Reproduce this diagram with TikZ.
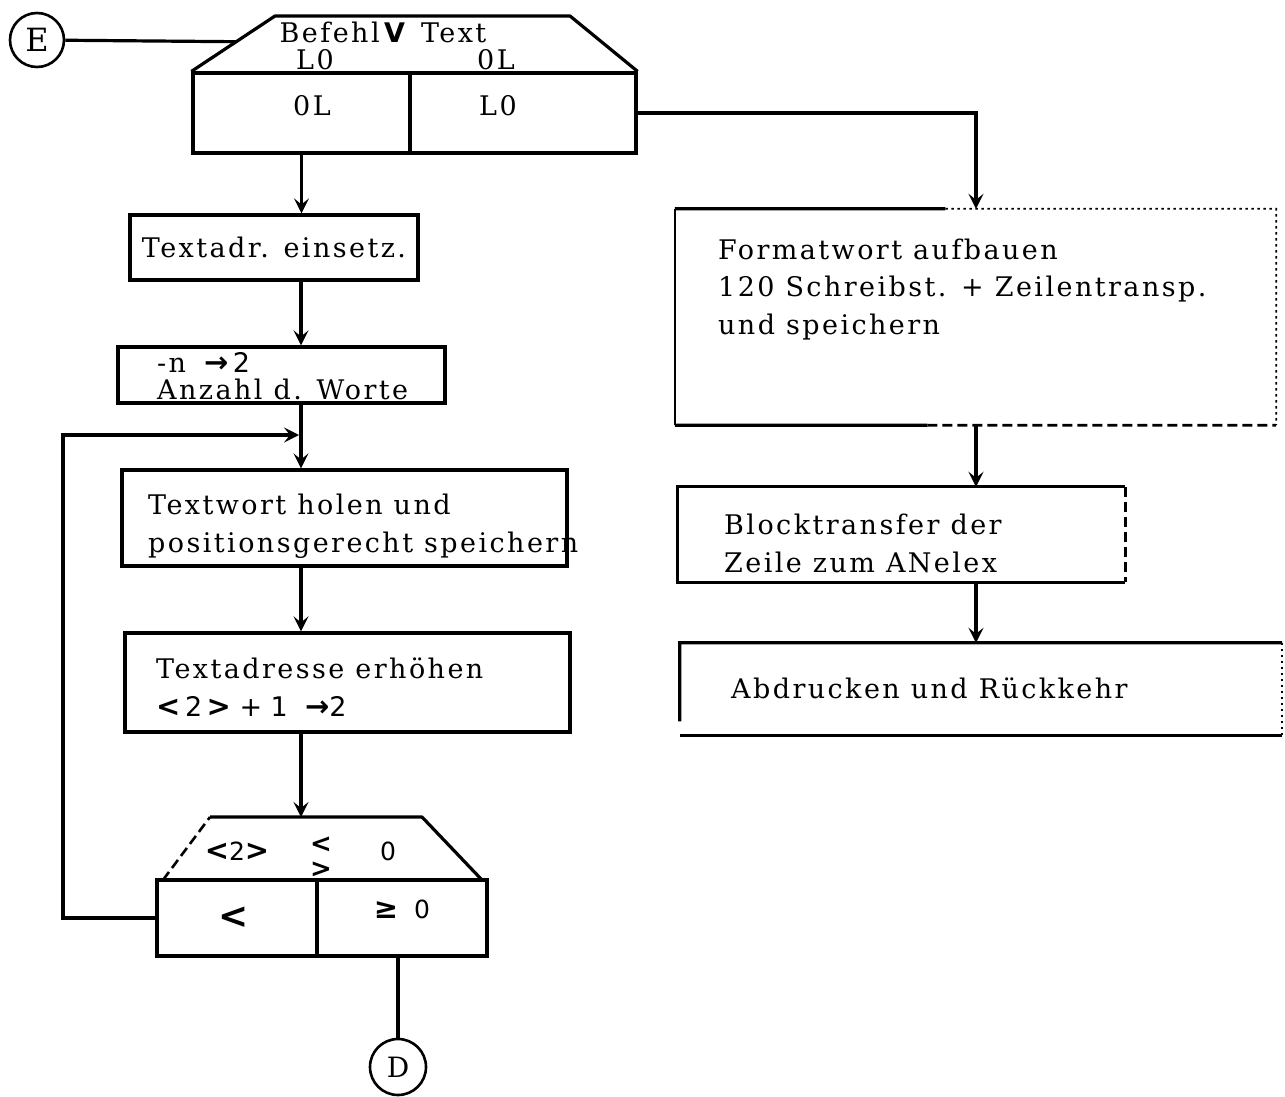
\documentclass[tikz,border=0pt]{standalone}
\usepackage{fontspec}
\setmainfont{DejaVu Serif}[LetterSpace=9]
\newfontfamily\symfont{DejaVu Sans}
\usetikzlibrary{arrows.meta,calc}
\newcommand\mychev[1]{{\symfont\bfseries\fontsize{29}{29}\selectfont #1}}
\begin{document}
\begin{tikzpicture}[x=1pt,y=-1pt,
 ln/.style={line width=3.2pt},
 thinln/.style={line width=2.4pt},
 dotl/.style={line width=1.8pt, dash pattern=on 2.5pt off 3.5pt},
 dashl/.style={line width=2.6pt, dash pattern=on 10pt off 5pt},
 bx/.style={draw, line width=3.2pt, inner sep=0pt},
 nb/.style={inner sep=0pt},
 arr/.style={line width=3.2pt, -{Stealth[length=15pt,width=15pt,inset=6pt]}},
 t/.style={inner sep=0pt, font=\fontsize{27}{37.5}\selectfont, align=left},
 ts/.style={inner sep=0pt, font=\symfont\fontsize{25}{25}\selectfont},
 circ/.style={draw, circle, line width=2.6pt, inner sep=0pt},
]
\useasboundingbox (0,0) rectangle (1285,1097);

% ---- start
\node[circ, minimum size=54] (E) at (37,40) {\fontsize{32}{32}\selectfont E};

% ---- decision 1
\node[bx, minimum width=217, minimum height=80] (d1l) at (301.5,113) {};
\node[bx, minimum width=226, minimum height=80] (d1r) at (523,113) {};
\coordinate (d1tl) at (275,16);
\coordinate (d1tr) at (570,16);
\draw[ln, line join=round] (d1l.north west) -- (d1tl) -- (d1tr) -- (d1r.north east);
\coordinate (d1in) at ($(d1l.north west)!0.536!(d1tl)$);
\node[t] (d1q) at (383,32) {Befehl\,{\symfont\bfseries V}\hspace{16pt}Text};
\node[t] (d1a) at (315,60) {L0};
\node[t] (d1b) at (496,60) {0L};
\node[t] (d1c) at (312,106) {0L};
\node[t] (d1d) at (498,106) {L0};
\draw[ln] (E) -- (d1in);

% ---- left column
\coordinate (colL) at (301,0);
\node[bx, minimum width=288, minimum height=65, font=\fontsize{27}{27}\selectfont] (tadr) at (274,247.5) {Textadr. einsetz.};
\draw[arr] (d1l.south) -- (d1l.south |- tadr.north);

\node[bx, minimum width=327, minimum height=56] (anz) at (281.5,375) {};
\node[t, anchor=west] (anzA) at (157,362) {-n\hspace{18pt}\mychev{→}\,{\symfont 2}};
\node[t, anchor=west] (anzB) at (157,389) {Anzahl d. Worte};
\draw[arr] (tadr.south -| colL) -- (anz.north -| colL);

\node[bx, minimum width=445, minimum height=96] (tw) at (344.5,518) {};
\node[t, anchor=west] (twT) at (148,526) {Textwort holen und\\positionsgerecht speichern};
\draw[arr] (anz.south -| colL) -- (tw.north -| colL);

\node[bx, minimum width=445, minimum height=99] (ta) at (347.5,682.5) {};
\node[t, anchor=west] (taT) at (156,687) {Textadresse erhöhen\\{\symfont\mychev{<}\,2\,\mychev{>}\ +\ 1\ \ \mychev{→}2}};
\draw[arr] (tw.south -| colL) -- (ta.north -| colL);

% ---- decision 2
\node[bx, minimum width=160, minimum height=76] (d2l) at (237,918) {};
\node[bx, minimum width=170, minimum height=76] (d2r) at (402,918) {};
\coordinate (d2bl) at (163,880);
\coordinate (d2tl) at (210,817);
\coordinate (d2tr) at (422,817);
\coordinate (d2br) at (482,880);
\draw[dashl] (d2bl) -- (d2tl);
\draw[ln, line join=round] (d2tl) -- (d2tr) -- (d2br);
\node[ts] (d2q1) at (237,851) {\mychev{<}2\mychev{>}};
\node[inner sep=0pt, align=center, font=\symfont\bfseries\fontsize{26}{25}\selectfont] (d2q2) at (321,857) {<\\>};
\node[ts] (d2q3) at (388,851) {0};
\node[ts, font=\symfont\bfseries\fontsize{36}{36}\selectfont] (d2lt) at (234,918) {<};
\node[ts] (d2ge) at (402,909) {\mychev{≥}\ \ 0};
\coordinate (d2in) at (colL |- d2tl);
\draw[arr] (ta.south -| colL) -- (d2in);

% loop back
\coordinate (lx) at (63,435);
\coordinate (lj) at (299,435);
\draw[arr] (d2l.west) -| (lx) -- (lj);

% exit D
\node[circ, minimum size=56] (D) at (398,1067) {\fontsize{28}{28}\selectfont D};
\draw[ln] (D |- d2r.south) -- (D.north);

% ---- right column
\node[nb, minimum width=601, minimum height=216] (fw) at (975.5,317) {};
\draw[thinln] (fw.south west) -- (fw.north west);
\draw[ln] (fw.north west) -- ($(fw.north west)!0.45!(fw.north east)$);
\draw[dotl] ($(fw.north west)!0.45!(fw.north east)$) -- (fw.north east) -- (fw.south east);
\draw[ln] (fw.south west) -- ($(fw.south west)!0.42!(fw.south east)$);
\draw[dashl] ($(fw.south west)!0.42!(fw.south east)$) -- (fw.south east);
\node[t, anchor=west] (fwT) at (718,289.5) {Formatwort aufbauen\\120 Schreibst. + Zeilentransp.\\und speichern};
\coordinate (rc) at (976,112);
\draw[arr] (d1r.east) -- (d1r.east -| rc) -- (rc |- fw.north);

\node[nb, minimum width=447, minimum height=95] (bt) at (901.5,534.5) {};
\draw[ln] (bt.north east) -- (bt.north west) -- (bt.south west) -- (bt.south east);
\draw[dashl] (bt.north east) -- (bt.south east);
\node[t, anchor=west] (btT) at (724,543.5) {Blocktransfer der\\Zeile zum ANelex};
\draw[arr] (rc |- fw.south) -- (rc |- bt.north);

\node[nb, minimum width=602, minimum height=92] (ab) at (981,689) {};
\draw[ln] ($(ab.south west)!0.15!(ab.north west)$) -- (ab.north west) -- (ab.north east);
\draw[ln] (ab.south west) -- (ab.south east);
\draw[dotl] (ab.north east) -- (ab.south east);
\node[t, anchor=west] (abT) at (731,688) {Abdrucken und Rückkehr};
\draw[arr] (rc |- bt.south) -- (rc |- ab.north);
\end{tikzpicture}
\end{document}
